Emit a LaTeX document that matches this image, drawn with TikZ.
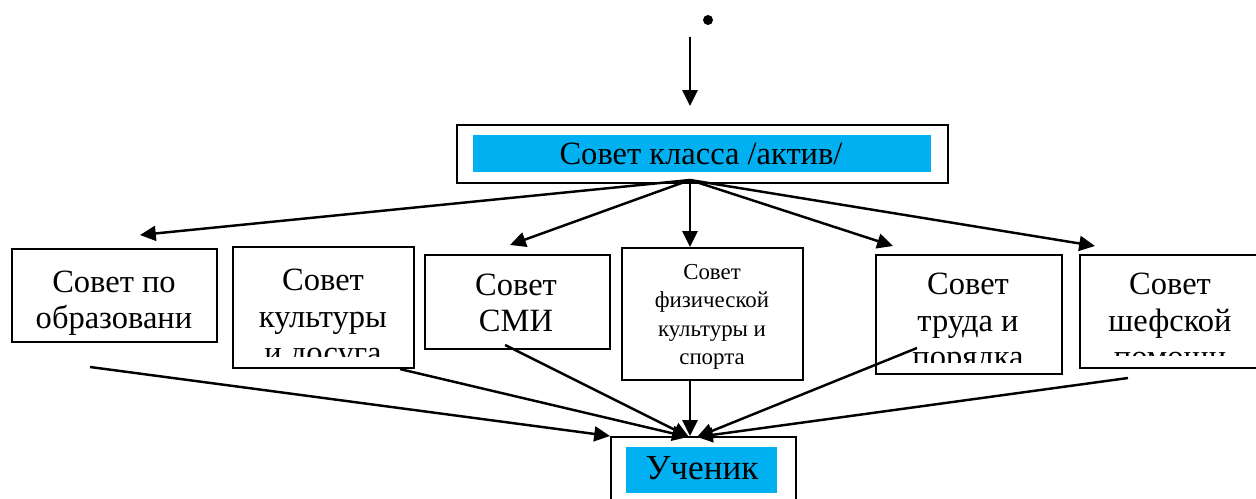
\documentclass[tikz,border=0pt]{standalone}
\usepackage{fontspec}
\setmainfont{Liberation Serif}
\usetikzlibrary{arrows.meta}
\definecolor{sovetblue}{RGB}{0,176,240}
\tikzset{
  box/.style={draw, line width=1.2pt, anchor=north west, inner sep=0pt},
  fillbox/.style={fill=sovetblue, anchor=north west, inner sep=0pt},
  arr/.style={-{Triangle[length=9pt,width=8.5pt]}, line width=1.4pt},
  txt/.style={align=center, inner sep=0pt, font=\fontsize{18.5}{20.8}\selectfont},
  smalltxt/.style={align=center, inner sep=0pt, font=\fontsize{13}{16.2}\selectfont},
}
\begin{document}
\begin{tikzpicture}[x=0.02cm,y=-0.02cm]
    \useasboundingbox (0,0) rectangle (1256,499);
    \clip (0,0) rectangle (1256,499);
    % top
    \fill (708,20) circle (5);
    \coordinate (start) at (690,37);
    \node[box, minimum width=9.82cm, minimum height=1.16cm] (aktiv) at (456,124) {};
    \node[fillbox, minimum width=9.16cm, minimum height=0.74cm] at (473,135) {};
    \node[txt] at (701,154) {Совет класса /актив/};
    \draw[arr] (start) -- (690,106);
    % sovety
    \node[box, minimum width=4.10cm, minimum height=1.86cm] (obr) at (11,248) {};
    \node[box, minimum width=3.62cm, minimum height=2.42cm] (kult) at (232,246) {};
    \node[box, minimum width=3.70cm, minimum height=1.88cm] (smi) at (424,254) {};
    \node[box, minimum width=3.62cm, minimum height=2.64cm] (fiz) at (621,247) {};
    \node[box, minimum width=3.72cm, minimum height=2.38cm] (trud) at (875,254) {};
    \node[box, minimum width=4.00cm, minimum height=2.26cm] (shef) at (1079,254) {};
    \node[txt] at (114,303) {Совет по\\образовани};
    \begin{scope}
        \clip (232,246) rectangle (413,357);
        \node[txt, anchor=north] at (323,269) {Совет\\культуры\\и досуга};
    \end{scope}
    \node[txt] at (516,303) {Совет\\СМИ};
    \node[smalltxt] at (712,317) {Совет\\физической\\культуры и\\спорта};
    \begin{scope}
        \clip (875,254) rectangle (1061,363);
        \node[txt, anchor=north] at (968,273) {Совет\\труда и\\порядка};
    \end{scope}
    \begin{scope}
        \clip (1079,254) rectangle (1300,356);
        \node[txt, anchor=north] at (1170,273) {Совет\\шефской\\помощи};
    \end{scope}
    \coordinate (fan) at (690,180);
    \draw[arr] (fan) -- (140,235);
    \draw[arr] (fan) -- (510,245);
    \draw[arr] (fan) -- (fan |- fiz.north);
    \draw[arr] (fan) -- (893,246);
    \draw[arr] (fan) -- (1095,246);
    % uchenik
    \node[box, minimum width=3.70cm, minimum height=2cm] (uch) at (610,436) {};
    \node[fillbox, minimum width=3.02cm, minimum height=0.92cm] at (626,447) {};
    \node[txt, font=\fontsize{20}{22}\selectfont] at (702,468) {Ученик};
    \draw[arr] (90,367) -- (uch.north west);
    \draw[arr] (kult.south east) ++(-15,0) -- (688,437);
    \draw[arr] (505,345) -- (689,437);
    \draw[arr] (fan |- fiz.south) -- (fan |- uch.north);
    \draw[arr] (917,348) -- (697,437);
    \draw[arr] (1128,378) -- (697,437);
\end{tikzpicture}
\end{document}
